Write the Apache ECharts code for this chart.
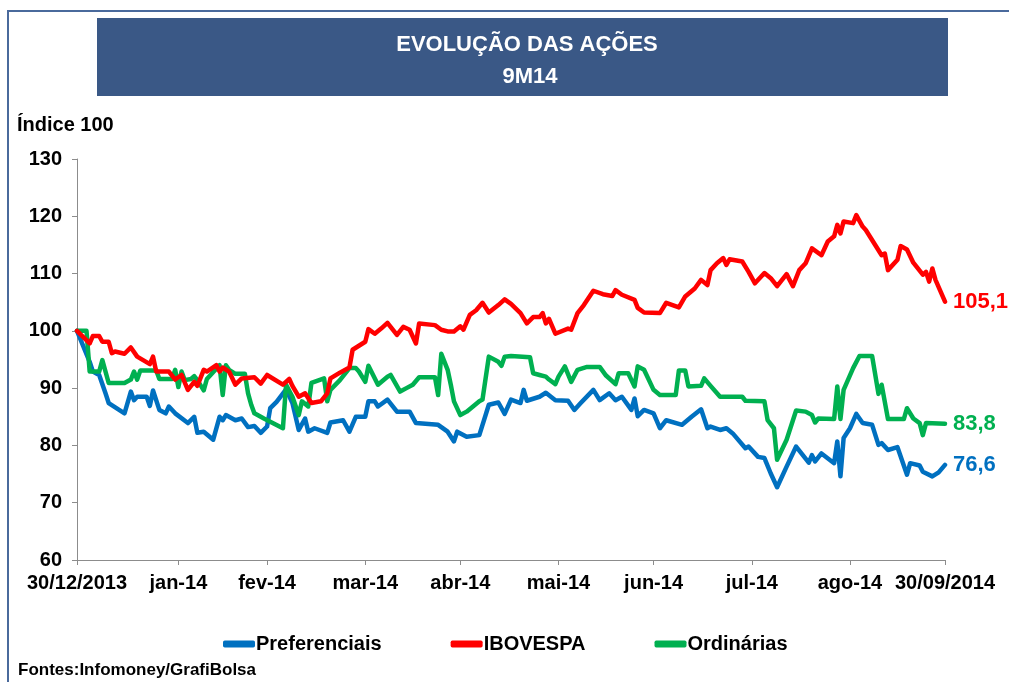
<!DOCTYPE html>
<html>
<head>
<meta charset="utf-8">
<script src="https://cdn.jsdelivr.net/npm/echarts@6/dist/echarts.min.js"></script>
<style>
  html, body { margin: 0; padding: 0; background: #fff; }
  #acoesChart { width: 1009px; height: 682px; }
</style>
</head>
<body>
<div id="acoesChart"></div>
<script>
// dias corridos desde 30/12/2013, indice base 100
var tickDays = [0, 32, 60, 91, 121, 152, 182, 213, 244, 274];
var tickLabels = ['30/12/2013', 'jan-14', 'fev-14', 'mar-14', 'abr-14', 'mai-14', 'jun-14', 'jul-14', 'ago-14', '30/09/2014'];
var seriesNames = ['Preferenciais', 'IBOVESPA', 'Ordinárias'];

var preferenciais = [
    [0,100],[4,94.6],[5,92.9],[7,92.3],[9,89.1],[10,87.4],[15,85.6],[17,89.4],[18,87.9],[19,88.5],
    [22,88.5],[23,86.9],[24,89.6],[26,86.2],[28,85.6],[29,86.8],[31,85.6],[35,83.9],[37,85.0],[38,82.2],
    [40,82.4],[43,81.0],[45,85.0],[46,84.4],[47,85.3],[50,84.4],[52,84.7],[54,83.2],[56,83.4],[58,82.2],
    [60,83.3],[61,86.5],[63,87.6],[66,89.8],[68,87.4],[70,82.7],[72,84.7],[73,82.4],[75,83.0],[79,82.2],
    [80,84.0],[84,84.4],[86,82.4],[88,85.0],[91,85.0],[92,87.7],[94,87.7],[95,86.8],[98,88.0],[101,85.9],
    [105,85.9],[107,83.9],[114,83.6],[117,82.4],[119,80.7],[120,82.4],[123,81.5],[127,81.8],[130,87.1],[133,87.5],
    [135,85.5],[137,88.0],[140,87.4],[141,89.7],[142,87.8],[146,88.5],[148,89.2],[151,87.9],[155,87.8],[157,86.2],
    [159,87.4],[163,89.7],[165,87.9],[168,89.1],[170,87.9],[172,88.5],[175,86.2],[176,88.2],[177,85.1],[179,86.2],
    [182,85.6],[184,83.0],[186,84.4],[191,83.6],[194,85.0],[197,86.3],[199,83.0],[200,83.3],[203,82.7],[205,83.0],
    [207,82.1],[211,79.5],[212,79.8],[215,78.0],[217,77.8],[219,75.1],[221,72.7],[224,76.3],[227,79.8],[231,77.0],
    [232,78.3],[233,77.2],[235,78.6],[239,76.9],[240,80.7],[241,74.6],[242,81.3],[244,83.0],[246,85.5],[248,83.9],
    [251,83.6],[253,80.1],[254,80.4],[256,79.2],[259,79.7],[262,74.9],[263,76.9],[266,76.5],[267,75.4],[270,74.6],
    [272,75.3],[274,76.6]
];

var ibovespa = [
    [0,100],[4,97.8],[5,99.1],[7,99.1],[8,98.1],[10,98.1],[11,96.1],[12,96.4],[15,96.0],[17,97.1],
    [19,95.5],[23,94.2],[24,95.5],[25,92.9],[29,92.9],[31,91.5],[33,92.3],[35,89.7],[37,91.1],[38,90.4],
    [40,93.2],[41,92.9],[44,94.0],[45,92.9],[46,93.6],[48,92.9],[50,90.6],[52,91.7],[56,91.9],[58,90.8],
    [60,92.3],[65,90.6],[67,91.6],[68,90.4],[70,88.5],[72,89.1],[74,87.4],[77,87.7],[79,89.1],[80,91.7],
    [83,92.7],[86,93.6],[87,96.7],[89,97.4],[91,98.1],[92,100.3],[94,99.5],[96,100.4],[98,101.4],[101,99.3],
    [103,100.7],[105,100.2],[107,97.8],[108,101.3],[113,101.0],[115,100.2],[117,99.9],[119,99.9],[121,100.8],[122,100.2],
    [124,102.8],[126,103.6],[128,104.9],[130,103.2],[133,104.5],[135,105.5],[137,104.7],[140,103.1],[142,101.3],[144,102.4],
    [146,102.4],[147,103.1],[148,101.3],[149,102.1],[151,99.5],[155,100.4],[156,100.2],[158,103.1],[160,104.5],[163,107.0],
    [166,106.4],[169,106.1],[170,107.1],[172,106.3],[176,105.4],[177,104.0],[179,103.2],[184,103.1],[186,104.9],[190,104.1],
    [192,106.0],[195,107.4],[197,108.9],[199,108.0],[200,110.6],[202,111.8],[204,112.7],[205,111.5],[206,112.5],[210,112.1],
    [212,110.3],[214,108.3],[217,110.1],[219,109.2],[221,107.8],[224,109.9],[226,107.8],[228,110.6],[230,111.8],[232,114.4],
    [235,113.2],[237,115.6],[239,116.5],[240,118.5],[241,117.0],[242,119.1],[245,118.8],[246,120.2],[248,118.2],[249,117.6],
    [254,113.2],[255,113.5],[256,110.6],[259,112.4],[260,114.8],[262,114.2],[264,111.9],[267,109.8],[268,110.3],[269,108.6],
    [270,110.9],[271,108.9],[274,105.1]
];

var ordinarias = [
    [0,100],[3,100],[4,92.9],[7,92.9],[8,94.9],[10,90.9],[15,90.9],[17,91.5],[18,92.9],[19,91.5],
    [20,93.1],[25,93.1],[26,91.6],[30,91.6],[31,93.2],[32,90.2],[33,92.9],[34,91.4],[36,91.6],[37,92.1],
    [38,91.4],[40,89.6],[41,91.6],[45,94.0],[46,88.8],[47,94.0],[48,93.2],[50,92.5],[53,92.5],[54,89.1],
    [55,87.1],[56,85.6],[59,84.7],[65,83.0],[66,90.6],[68,88.5],[70,85.3],[71,87.7],[73,86.8],[74,90.9],
    [78,91.7],[79,87.7],[80,89.7],[83,91.4],[86,93.5],[88,93.5],[89,92.9],[91,91.1],[92,93.9],[95,90.6],
    [98,92.0],[99,92.3],[102,89.4],[104,90.0],[106,90.6],[108,91.9],[113,91.9],[114,88.8],[115,96.0],[117,93.2],
    [118,90.6],[119,87.7],[121,85.3],[123,85.9],[127,87.7],[128,88.0],[130,95.5],[133,94.6],[134,93.9],[135,95.5],
    [137,95.6],[143,95.4],[144,92.6],[146,92.3],[148,92.0],[149,91.5],[151,90.7],[152,92.0],[154,93.8],[156,91.1],
    [158,93.2],[161,93.7],[165,93.7],[167,92.2],[170,90.7],[171,92.6],[174,92.6],[176,90.3],[177,93.8],[179,93.2],
    [182,89.7],[184,88.8],[189,88.8],[190,93.1],[192,93.1],[193,90.3],[197,90.4],[198,91.7],[200,90.4],[203,88.5],
    [210,88.5],[211,87.8],[217,87.7],[218,84.4],[220,83.0],[221,77.5],[224,81.0],[226,84.4],[227,86.1],[230,85.9],
    [232,85.3],[233,84.0],[234,84.7],[239,84.6],[240,90.3],[241,84.6],[242,89.7],[245,93.5],[247,95.6],[251,95.6],
    [253,89.0],[254,90.6],[256,84.6],[261,84.6],[262,86.5],[264,84.7],[266,83.9],[267,81.8],[268,83.9],[274,83.8]
];

var chartDom = document.getElementById('acoesChart');
var myChart = echarts.init(chartDom);
var fontFamily = '"Liberation Sans", Arial, sans-serif';

function lineSeries(name, data, color, z) {
    return {
        name: name,
        type: 'line',
        data: data,
        z: z,
        showSymbol: false,
        symbol: 'none',
        lineStyle: { color: color, width: 4.5, join: 'round', cap: 'round' },
        itemStyle: { color: color },
        endLabel: {
            show: true,
            distance: 8,
            color: color,
            fontSize: 22,
            fontWeight: 'bold',
            fontFamily: fontFamily,
            formatter: function (p) {
                return p.value[1].toFixed(1).replace('.', ',');
            }
        },
        animation: false
    };
}

var option = {
    backgroundColor: '#ffffff',
    animation: false,
    title: [
        {
            text: 'EVOLUÇÃO DAS AÇÕES',
            left: 522, top: 29, textAlign: 'center',
            textStyle: { color: '#ffffff', fontSize: 22, fontWeight: 'bold', fontFamily: fontFamily }
        },
        {
            text: '9M14',
            left: 525, top: 61, textAlign: 'center',
            textStyle: { color: '#ffffff', fontSize: 22, fontWeight: 'bold', fontFamily: fontFamily }
        }
    ],
    graphic: [
        {
            type: 'polyline', z: -1,
            shape: { points: [[8, 682], [8, 11], [1009, 11]] },
            style: { stroke: '#4a6a9c', lineWidth: 2, fill: null }
        },
        {
            type: 'rect', z: -1,
            shape: { x: 97, y: 18, width: 851, height: 78 },
            style: { fill: '#3a5886' }
        },
        {
            type: 'text', left: 17, top: 115,
            style: { text: 'Índice 100', fill: '#000', font: 'bold 20px ' + fontFamily }
        },
        {
            type: 'text', left: 18, top: 662,
            style: { text: 'Fontes:Infomoney/GrafiBolsa', fill: '#000', font: 'bold 17px ' + fontFamily }
        }
    ],
    grid: { left: 77, right: 64, top: 159, bottom: 122 },
    legend: {
        data: seriesNames,
        left: 218,
        top: 629,
        itemWidth: 32,
        itemHeight: 7,
        itemGap: 69,
        icon: 'roundRect',
        textStyle: { color: '#000', fontSize: 20, fontWeight: 'bold', fontFamily: fontFamily, padding: [0, 0, 0, -4] }
    },
    xAxis: {
        type: 'value',
        min: 0,
        max: 274,
        splitLine: { show: false },
        axisLine: { lineStyle: { color: '#8c8c8c', width: 1 } },
        axisTick: { show: true, length: 5, customValues: tickDays, lineStyle: { color: '#8c8c8c' } },
        axisLabel: {
            customValues: tickDays,
            margin: 13,
            color: '#000',
            fontSize: 20,
            fontWeight: 'bold',
            fontFamily: fontFamily,
            formatter: function (v) {
                return tickLabels[tickDays.indexOf(v)];
            }
        }
    },
    yAxis: {
        type: 'value',
        min: 60,
        max: 130,
        interval: 10,
        splitLine: { show: false },
        axisLine: { show: true, lineStyle: { color: '#8c8c8c', width: 1 } },
        axisTick: { show: true, length: 5, lineStyle: { color: '#8c8c8c' } },
        axisLabel: { margin: 15, color: '#000', fontSize: 20, fontWeight: 'bold', fontFamily: fontFamily }
    },
    series: [
        lineSeries('Preferenciais', preferenciais, '#0070c0', 2),
        lineSeries('Ordinárias', ordinarias, '#00b050', 3),
        lineSeries('IBOVESPA', ibovespa, '#ff0000', 4)
    ]
};

option && myChart.setOption(option);
</script>
</body>
</html>
